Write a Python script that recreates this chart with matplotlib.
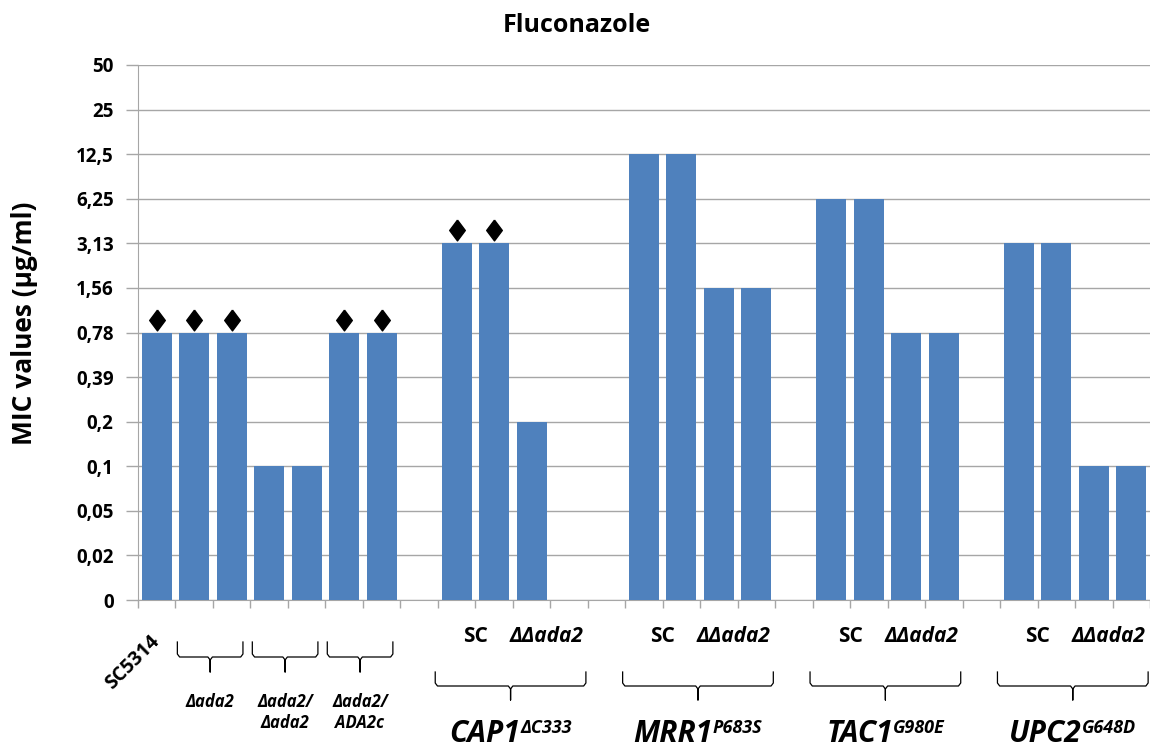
import matplotlib
matplotlib.use("Agg")
import matplotlib.pyplot as plt
from matplotlib import transforms

plt.rcParams["font.family"] = ["Open Sans", "DejaVu Sans"]
plt.rcParams["font.weight"] = "bold"

# MIC dilution steps, shown as equally spaced categories on the y axis
mic_levels = [0, 0.02, 0.05, 0.1, 0.2, 0.39, 0.78, 1.56, 3.13, 6.25, 12.5, 25, 50]

# one entry per slot along the x axis, None = empty slot
mic_values = [
    0.78, 0.78, 0.78, 0.1, 0.1, 0.78, 0.78, None,
    3.13, 3.13, 0.2, 0, None,
    12.5, 12.5, 1.56, 1.56, None,
    6.25, 6.25, 0.78, 0.78, None,
    3.13, 3.13, 0.1, 0.1,
]
# slots marked with a diamond
flagged = [0, 1, 2, 5, 6, 8, 9]

small_groups = [("Δada2", 1, 3), ("Δada2/\nΔada2", 3, 5), ("Δada2/\nADA2c", 5, 7)]
big_groups = [
    ("CAP1", "ΔC333", 8, 12),
    ("MRR1", "P683S", 13, 17),
    ("TAC1", "G980E", 18, 22),
    ("UPC2", "G648D", 23, 27),
]
sub_labels = ["SC", "ΔΔada2"]

W, H = 1150, 749
BLUE = "#4F81BD"
GREY = "#A6A6A6"

fig = plt.figure(figsize=(W / 100, H / 100), dpi=100)
ax = fig.add_axes([138 / W, 1 - 600 / H, 1 - 138 / W, (600 - 65) / H])


def fy(p):
    # pixel row -> figure fraction
    return 1 - p / H


xs = [i + 0.5 for i, v in enumerate(mic_values) if v is not None]
hs = [mic_levels.index(v) for v in mic_values if v is not None]
ax.bar(xs, hs, width=0.8, color=BLUE, zorder=3)

diamond = [(0, 1), (0.75, 0), (0, -1), (-0.75, 0), (0, 1)]
ax.plot([i + 0.5 for i in flagged],
        [mic_levels.index(mic_values[i]) + 0.29 for i in flagged],
        linestyle="none", marker=diamond, ms=15, color="black", zorder=4)

ax.set_xlim(0, len(mic_values))
ax.set_ylim(0, len(mic_levels) - 1)
ax.set_yticks(range(len(mic_levels)))
ax.set_yticklabels([f"{v:g}".replace(".", ",") for v in mic_levels],
                   fontweight="bold")
ax.set_xticks(range(len(mic_values) + 1))
ax.set_xticklabels([])
ax.tick_params(axis="y", length=9, color=GREY, width=1, labelsize=13.5, pad=8.5)
ax.tick_params(axis="x", length=6, color=GREY, width=1)
ax.yaxis.grid(True, color=GREY, lw=1)
ax.set_axisbelow(True)
for side in ["top", "right"]:
    ax.spines[side].set_visible(False)
for side in ["left", "bottom"]:
    ax.spines[side].set_color(GREY)

tr = transforms.blended_transform_factory(ax.transData, fig.transFigure)


def brace(x0, x1, top, mid, bot):
    xc = (x0 + x1) / 2
    r = 0.06
    bx = [x0, x0, x0 + r, xc - r, xc, xc, xc, xc + r, x1 - r, x1, x1]
    by = [top, mid - 3, mid, mid, mid + 3, bot, mid + 3, mid, mid, mid - 3, top]
    ax.plot(bx, [fy(p) for p in by], transform=tr, color="black",
            lw=0.9, clip_on=False)


ax.text(-0.15, fy(663), "SC5314", transform=tr, rotation=45, ha="center",
        va="center", fontsize=14, fontweight="bold")

for name, x0, x1 in small_groups:
    brace(x0 + 0.05, x1 - 0.2, 642, 657, 672)
    ax.text((x0 + x1) / 2 - 0.08, fy(693), name, transform=tr, ha="center",
            va="top", fontsize=12, fontweight="bold", style="italic",
            linespacing=1.25)

fig.canvas.draw()
renderer = fig.canvas.get_renderer()
for name, sup, x0, x1 in big_groups:
    ax.text(x0 + 1, fy(636), sub_labels[0], transform=tr, ha="center",
            va="center", fontsize=15, fontweight="bold")
    ax.text(x0 + 3 - 0.1, fy(636), sub_labels[1], transform=tr, ha="center",
            va="center", fontsize=15, fontweight="bold", style="italic")
    brace(x0 - 0.07, x1 - 0.05, 672, 686, 700)

    xc = (x0 - 0.07 + x1 - 0.05) / 2
    main = ax.text(xc, fy(742), name, transform=tr, ha="left", va="baseline",
                   fontsize=21.5, fontweight="bold", style="italic")
    small = ax.text(xc, fy(733), sup, transform=tr, ha="left", va="baseline",
                    fontsize=13, fontweight="bold", style="italic")
    wm = main.get_window_extent(renderer).width
    ws = small.get_window_extent(renderer).width
    shift = -(wm + ws) / 2
    main.set_transform(tr + transforms.Affine2D().translate(shift, 0))
    small.set_transform(tr + transforms.Affine2D().translate(shift + wm, 0))

fig.text(577 / W, fy(25), "Fluconazole", ha="center", va="center",
         fontsize=18, fontweight="bold")
fig.text(25 / W, fy(323), "MIC values (µg/ml)", rotation=90, ha="center",
         va="center", fontsize=19, fontweight="bold")

fig.savefig("out.png", dpi=100)
